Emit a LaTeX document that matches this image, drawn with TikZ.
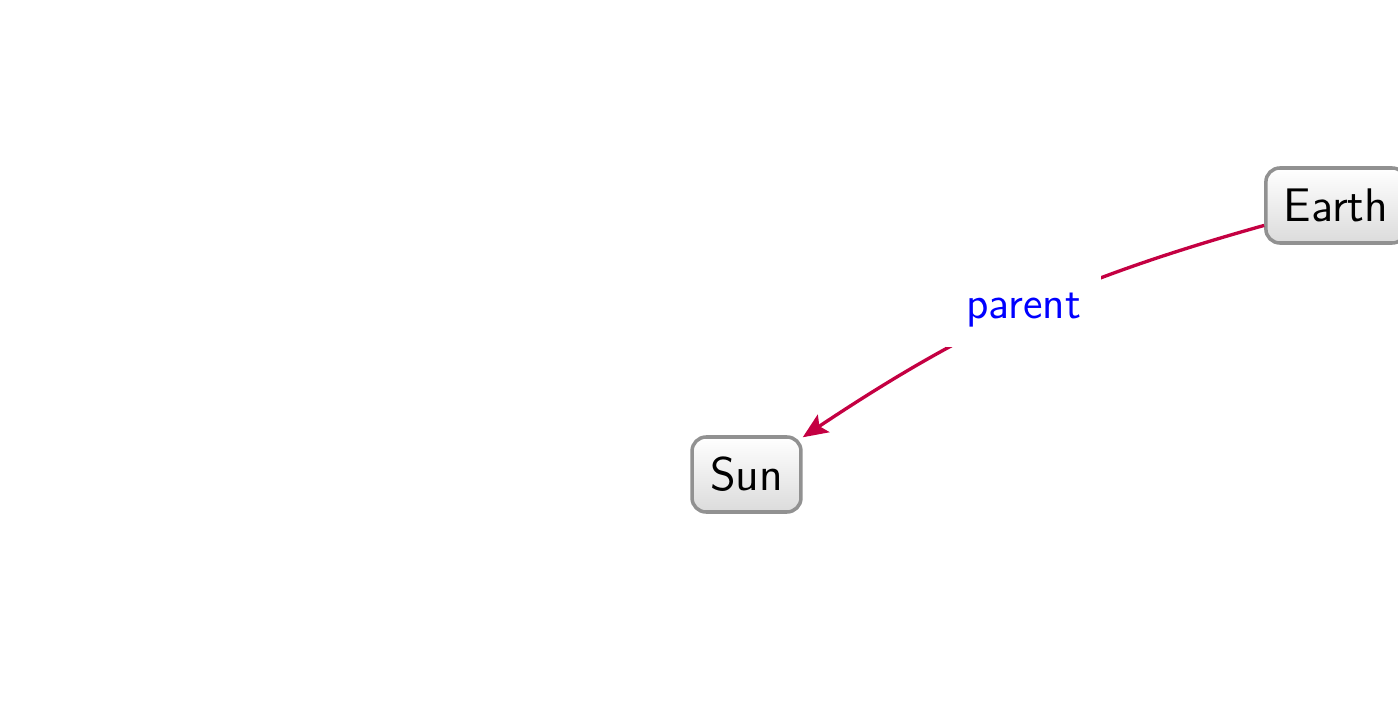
\documentclass[tikz,border=0pt]{standalone}
\usetikzlibrary{arrows.meta}
\usepackage{fontspec}
\setsansfont{Latin Modern Sans}
\definecolor{linkred}{RGB}{196,0,66}
\definecolor{boxgray}{RGB}{145,145,145}

\begin{document}
\begin{tikzpicture}[
    body/.style={draw=boxgray, line width=1pt, rounded corners=0.14cm,
      top color=white, bottom color=black!14, font=\sffamily\fontsize{13.4}{16}\selectfont,
      minimum height=0.75cm, inner xsep=0.18cm},
    link/.style={draw=linkred, line width=0.95pt,
      -{Stealth[length=0.25cm, width=0.21cm, inset=0.05cm]}},
    tag/.style={fill=white, text=blue, font=\sffamily\fontsize{12.7}{15}\selectfont,
      inner xsep=0.2cm, inner ysep=0.2cm}]
    \useasboundingbox (0,0) rectangle (13.98,7.04);

    \node[body] (sun)   at ( 7.465, 2.295) {Sun};
    \node[body] (earth) at (13.36, 4.985) {Earth};

    \draw[link] (earth) to[bend right=9] node[tag] {parent} (sun);

  \end{tikzpicture}
\end{document}
